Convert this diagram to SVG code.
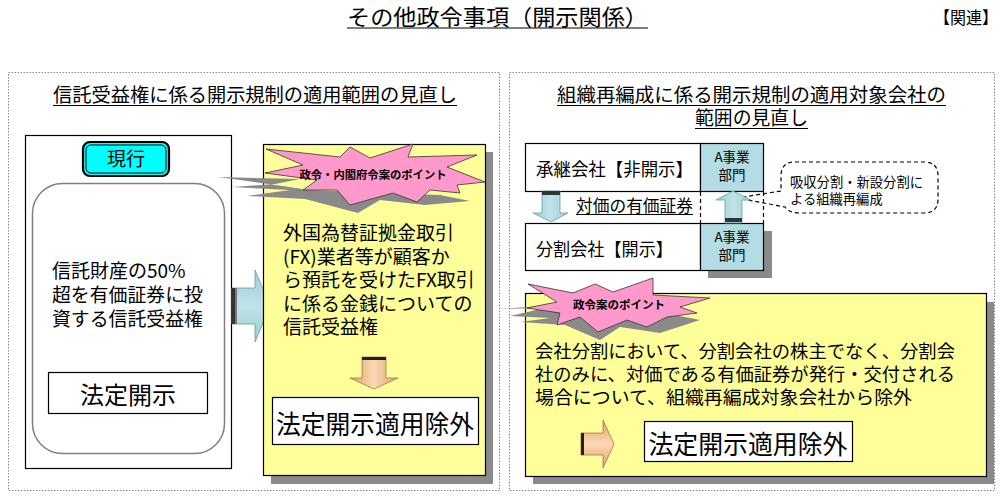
<svg xmlns="http://www.w3.org/2000/svg" width="1007" height="499" viewBox="0 0 1007 499">
<defs>
<style>
.t{font-family:'Noto Sans CJK JP','Noto Sans CJK SC',sans-serif;fill:#000}
.panel{fill:#fff;stroke:#888;stroke-width:1;stroke-dasharray:1.5 1.5}
.box{fill:#fff;stroke:#000;stroke-width:1.2}
.yel{fill:#FFFF99;stroke:#000;stroke-width:1.2}
.shadow{fill:#8a8a8a}
.cell{fill:#B3DCE4;stroke:#000;stroke-width:1.2}
.star{fill:#FF99CC;stroke:#333;stroke-width:0.8}
.blue{fill:url(#gBlueH);stroke:#6f9aa2;stroke-width:0.8}
.blueV{fill:url(#gBlueV);stroke:#6f9aa2;stroke-width:0.8}
.org{fill:url(#gOrgV);stroke:#a07850;stroke-width:0.8}
.orgH{fill:url(#gOrgH);stroke:#a07850;stroke-width:0.8}
.dash{fill:none;stroke:#000;stroke-width:1.2;stroke-dasharray:4 3}
.ul{stroke:#000;stroke-width:1.2}
</style>
<linearGradient id="gBlueH" x1="0" y1="0" x2="0" y2="1">
<stop offset="0" stop-color="#9ccdd6"/><stop offset="0.5" stop-color="#bfe3e9"/><stop offset="1" stop-color="#9ccdd6"/>
</linearGradient>
<linearGradient id="gBlueV" x1="0" y1="0" x2="1" y2="0">
<stop offset="0" stop-color="#9ccdd6"/><stop offset="0.5" stop-color="#bfe3e9"/><stop offset="1" stop-color="#9ccdd6"/>
</linearGradient>
<linearGradient id="gOrgV" x1="0" y1="0" x2="1" y2="0">
<stop offset="0" stop-color="#e0a066"/><stop offset="0.5" stop-color="#fad9b4"/><stop offset="1" stop-color="#e0a066"/>
</linearGradient>
<linearGradient id="gOrgH" x1="0" y1="0" x2="0" y2="1">
<stop offset="0" stop-color="#e0a066"/><stop offset="0.5" stop-color="#fad9b4"/><stop offset="1" stop-color="#e0a066"/>
</linearGradient>
</defs>
<rect width="1007" height="499" fill="#fff"/>

<g id="title">
<text class="t" x="347" y="25" font-size="22" textLength="301" lengthAdjust="spacingAndGlyphs">その他政令事項（開示関係）</text>
<line class="ul" x1="347" y1="28" x2="648" y2="28"/>
<text class="t" x="934" y="24" font-size="17" textLength="64" lengthAdjust="spacingAndGlyphs">【関連】</text>
</g>

<g id="panel-left">
<rect class="panel" x="8.5" y="72.5" width="491" height="418"/>
<text class="t" x="53" y="102" font-size="19" textLength="404" lengthAdjust="spacingAndGlyphs">信託受益権に係る開示規制の適用範囲の見直し</text>
<line class="ul" x1="53" y1="105.5" x2="457" y2="105.5"/>
</g>

<g id="panel-right">
<rect class="panel" x="509.5" y="72.5" width="485" height="418"/>
<text class="t" x="557" y="102" font-size="19" textLength="389" lengthAdjust="spacingAndGlyphs">組織再編成に係る開示規制の適用対象会社の</text>
<line class="ul" x1="557" y1="105.5" x2="946" y2="105.5"/>
<text class="t" x="695" y="125" font-size="19" textLength="113" lengthAdjust="spacingAndGlyphs">範囲の見直し</text>
<line class="ul" x1="695" y1="128.5" x2="808" y2="128.5"/>
</g>

<g id="current-box">
<rect class="box" x="25.5" y="135.5" width="206" height="333"/>
<rect x="32.5" y="183.5" width="192" height="270" rx="30" fill="#fff" stroke="#808080" stroke-width="1.5"/>
<text class="t" x="52" y="278" font-size="19">信託財産の50%</text>
<text class="t" x="52" y="302" font-size="19" textLength="151" lengthAdjust="spacingAndGlyphs">超を有価証券に投</text>
<text class="t" x="52" y="326" font-size="19" textLength="151" lengthAdjust="spacingAndGlyphs">資する信託受益権</text>
</g>

<g id="current-label">
<rect x="83" y="142" width="86" height="34" rx="7" fill="#00FFFF" stroke="#000" stroke-width="2.2"/>
<rect x="86" y="145" width="80" height="28" rx="5" fill="none" stroke="#000" stroke-width="1"/>
<text class="t" x="126" y="166" font-size="19" text-anchor="middle">現行</text>
</g>

<g id="legal-disclosure">
<rect class="box" x="48.5" y="372.5" width="159" height="41"/>
<text class="t" x="128" y="404" font-size="24" text-anchor="middle">法定開示</text>
</g>

<g id="connectors">
<polygon class="blue" points="232,288 255,288 255,270 270,306 255,342 255,324 232,324"/>
<rect x="232" y="288" width="3" height="36" fill="#333"/>
<rect x="235" y="288" width="2" height="36" fill="#777"/>
</g>

<g id="proposal-left">
<rect class="shadow" x="271" y="152" width="222" height="332"/>
<rect class="yel" x="263.5" y="144.5" width="222" height="331"/>
<polygon class="shadow" points="218,177 300,179 275,184 232,187 290,190 247,196 305,199 358,213 380,200 425,205 470,201 440,195 310,190"/>
<polygon class="star" points="266,149 340,157 350,147 370,158 413,144 408,157 477,155 447,167 485,182 457,185 460,193 430,190 417,202 393,193 350,205 337,190 303,190 317,180 265,173 303,165"/>
<text class="t" x="373" y="179" font-size="11.5" font-weight="bold" text-anchor="middle" textLength="147" lengthAdjust="spacingAndGlyphs">政令・内閣府令案のポイント</text>
<text class="t" x="283" y="240" font-size="19">外国為替証拠金取引</text>
<text class="t" x="283" y="263.5" font-size="19">(FX)業者等が顧客か</text>
<text class="t" x="283" y="287" font-size="19">ら預託を受けたFX取引</text>
<text class="t" x="283" y="310.5" font-size="19">に係る金銭についての</text>
<text class="t" x="283" y="334" font-size="19">信託受益権</text>
<polygon class="org" points="362,357 386,357 386,378 398,378 374,389 350,378 362,378"/>
<rect x="362" y="357" width="24" height="3" fill="#222"/>
<rect class="box" x="272.5" y="397.5" width="206" height="47"/>
<text class="t" x="375" y="434" font-size="26" text-anchor="middle" textLength="198" lengthAdjust="spacingAndGlyphs">法定開示適用除外</text>
</g>

<g id="successor">
<rect class="box" x="525.5" y="143.5" width="175" height="48"/>
<text class="t" x="536" y="176" font-size="18" textLength="157" lengthAdjust="spacingAndGlyphs">承継会社【非開示】</text>
</g>
<g id="unit-a-top">
<rect class="cell" x="700.5" y="143.5" width="63" height="48"/>
<text class="t" x="732" y="162" font-size="13.5" text-anchor="middle">A事業</text>
<text class="t" x="732" y="180" font-size="13.5" text-anchor="middle">部門</text>
</g>
<g id="split-company">
<rect class="box" x="525.5" y="223.5" width="175" height="47"/>
<text class="t" x="536" y="256" font-size="18" textLength="137" lengthAdjust="spacingAndGlyphs">分割会社【開示】</text>
</g>
<g id="unit-a-bottom">
<rect class="shadow" x="708" y="231" width="64" height="47"/>
<rect class="cell" x="700.5" y="223.5" width="63" height="47"/>
<text class="t" x="732" y="242" font-size="13.5" text-anchor="middle">A事業</text>
<text class="t" x="732" y="260" font-size="13.5" text-anchor="middle">部門</text>
</g>

<g id="callout">
<path class="dash" fill="#fff" d="M795,162 H924 Q938,162 938,176 V199 Q938,213 924,213 H800 Q789,213 785,207 L737,198 L781,191 V176 Q781,162 795,162 Z"/>
<text class="t" x="790" y="187" font-size="13.3" textLength="133" lengthAdjust="spacingAndGlyphs">吸収分割・新設分割に</text>
<text class="t" x="790" y="204" font-size="13.3">よる組織再編成</text>
</g>

<g id="connectors-right">
<line class="dash" x1="700.5" y1="192" x2="700.5" y2="223"/>
<line class="dash" x1="763.5" y1="192" x2="763.5" y2="223"/>
<polygon class="blueV" points="542,191 560,191 560,213 568,213 551,222 533,213 542,213"/>
<rect x="542" y="191" width="18" height="4" fill="#333"/>
<polygon class="blueV" points="733,191 751,200 742,200 742,223 725,223 725,200 716,200"/>
<rect x="725" y="218" width="17" height="4" fill="#333"/>
<text class="t" x="576" y="212" font-size="16.5" textLength="117" lengthAdjust="spacingAndGlyphs">対価の有価証券</text>
<line class="ul" x1="576" y1="214.5" x2="693" y2="214.5"/>
</g>

<g id="proposal-right">
<rect class="shadow" x="533" y="302" width="461" height="182"/>
<rect class="yel" x="525.5" y="293.5" width="461" height="183"/>
<polygon class="shadow" points="497,309 545,308 510,316 550,318 520,322 565,325 600,340 620,327 660,333 700,320 660,312 560,305"/>
<polygon class="star" points="528,284 573,293 595,284 613,292 653,278 653,295 710,298 680,307 697,313 667,317 647,327 627,320 598,332 580,317 557,325 560,313 527,308 557,302"/>
<text class="t" x="619" y="309" font-size="11.5" font-weight="bold" text-anchor="middle" textLength="92" lengthAdjust="spacingAndGlyphs">政令案のポイント</text>
<text class="t" x="535" y="358" font-size="18.5" textLength="420" lengthAdjust="spacingAndGlyphs">会社分割において、分割会社の株主でなく、分割会</text>
<text class="t" x="535" y="381" font-size="18.5" textLength="420" lengthAdjust="spacingAndGlyphs">社のみに、対価である有価証券が発行・交付される</text>
<text class="t" x="535" y="404" font-size="18.5" textLength="377" lengthAdjust="spacingAndGlyphs">場合について、組織再編成対象会社から除外</text>
<polygon class="orgH" points="581,433 603,433 603,420 614,444 603,468 603,455 581,455"/>
<rect x="581" y="433" width="3" height="22" fill="#222"/>
<rect class="box" x="644.5" y="421.5" width="208" height="40"/>
<text class="t" x="748" y="454" font-size="26" text-anchor="middle" textLength="199" lengthAdjust="spacingAndGlyphs">法定開示適用除外</text>
</g>
</svg>
